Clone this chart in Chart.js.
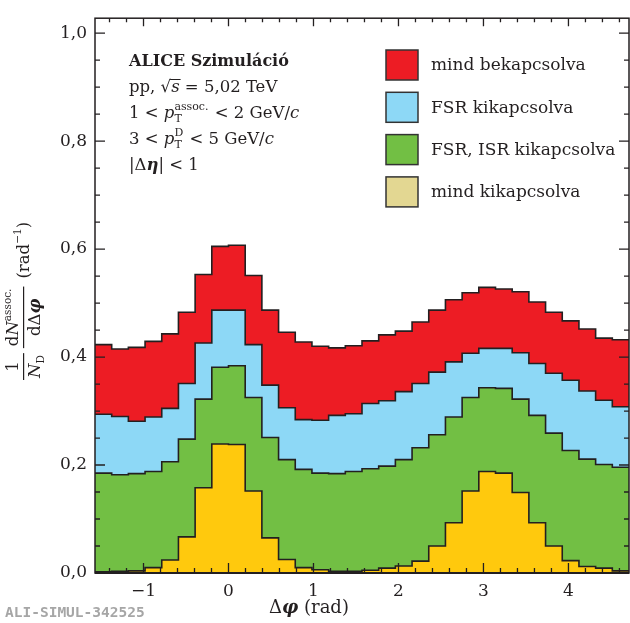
<!DOCTYPE html>
<html>
<head>
<meta charset="utf-8">
<script src="https://cdn.jsdelivr.net/npm/chart.js@4.4.1/dist/chart.umd.min.js"></script>
<style>
  html, body { margin: 0; padding: 0; background: #fff; }
  #wrap { width: 630px; height: 623px; }
</style>
</head>
<body>
<div id="wrap"><canvas id="chart" width="630" height="623"></canvas></div>
<script>
// 32 bins over -pi/2 .. 3pi/2
const nBins = 32;
const xMin = -Math.PI / 2;
const xMax = 3 * Math.PI / 2;

const seriesNames = ["mind bekapcsolva", "FSR kikapcsolva", "FSR, ISR kikapcsolva", "mind kikapcsolva"];

const allOn = [0.423, 0.415, 0.418, 0.429, 0.443, 0.483, 0.553, 0.605, 0.607, 0.551, 0.487, 0.446, 0.428, 0.420, 0.417, 0.421,
               0.430, 0.441, 0.448, 0.465, 0.487, 0.506, 0.519, 0.529, 0.526, 0.521, 0.502, 0.483, 0.467, 0.452, 0.435, 0.432];
const fsrOff = [0.294, 0.290, 0.281, 0.289, 0.305, 0.351, 0.426, 0.487, 0.487, 0.423, 0.348, 0.306, 0.284, 0.283, 0.292, 0.295,
                0.314, 0.319, 0.336, 0.351, 0.372, 0.391, 0.407, 0.416, 0.416, 0.408, 0.388, 0.370, 0.357, 0.337, 0.320, 0.308];
const fsrIsrOff = [0.185, 0.182, 0.184, 0.188, 0.206, 0.248, 0.322, 0.381, 0.384, 0.325, 0.251, 0.210, 0.192, 0.185, 0.184, 0.188,
                   0.193, 0.198, 0.210, 0.232, 0.256, 0.289, 0.325, 0.343, 0.342, 0.322, 0.292, 0.259, 0.227, 0.211, 0.201, 0.196];
const allOff = [0.002, 0.003, 0.004, 0.010, 0.024, 0.067, 0.158, 0.239, 0.238, 0.152, 0.065, 0.025, 0.010, 0.006, 0.003, 0.003,
                0.005, 0.009, 0.013, 0.022, 0.050, 0.093, 0.152, 0.188, 0.185, 0.149, 0.093, 0.050, 0.023, 0.012, 0.009, 0.004];

const xTickValues = [-1, 0, 1, 2, 3, 4];
const yTickValues = [0, 0.2, 0.4, 0.6, 0.8, 1.0];

const fillColors = ["#ed1c24", "#8dd8f6", "#72bf44", "#ffc90d"];
const legendColors = ["#ed1c24", "#8dd8f6", "#72bf44", "#e3d792"];
const ink = "#231f20";
const SERIF = '"DejaVu Serif", serif';

const binWidth = (xMax - xMin) / nBins;
const edges = [];
for (let i = 0; i <= nBins; i++) edges.push(xMin + i * binWidth);

function histPoints(vals) {
  return edges.map((x, i) => ({ x: x, y: vals[Math.min(i, vals.length - 1)] }));
}

function makeSet(label, vals, color) {
  return {
    label: label,
    data: histPoints(vals),
    stepped: true,
    fill: "origin",
    backgroundColor: color,
    borderColor: ink,
    borderWidth: 1.6,
    pointRadius: 0,
    tension: 0
  };
}

// index 0 is drawn on top, so yellow goes first
const datasets = [
  makeSet(seriesNames[3], allOff, fillColors[3]),
  makeSet(seriesNames[2], fsrIsrOff, fillColors[2]),
  makeSet(seriesNames[1], fsrOff, fillColors[1]),
  makeSet(seriesNames[0], allOn, fillColors[0])
];

// draw a line of text made of runs; {t, font, dy} or {sub, sup, font}
function drawRuns(ctx, x, y, runs) {
  runs.forEach(r => {
    ctx.font = r.font;
    if (r.sub !== undefined || r.sup !== undefined) {
      let w = 0;
      if (r.sup) { ctx.fillText(r.sup, x, y - 8); w = Math.max(w, ctx.measureText(r.sup).width); }
      if (r.sub) { ctx.fillText(r.sub, x, y + 4); w = Math.max(w, ctx.measureText(r.sub).width); }
      x += w + 1;
    } else {
      ctx.fillText(r.t, x, y + (r.dy || 0));
      const w = ctx.measureText(r.t).width;
      if (r.over) {
        ctx.fillRect(x - 1, y + r.over, w + 2, 1);
      }
      x += w;
    }
  });
  return x;
}

function runsWidth(ctx, runs) {
  let w = 0;
  runs.forEach(r => {
    ctx.font = r.font;
    if (r.sub !== undefined || r.sup !== undefined) {
      w += Math.max(r.sup ? ctx.measureText(r.sup).width : 0, r.sub ? ctx.measureText(r.sub).width : 0) + 1;
    } else {
      w += ctx.measureText(r.t).width;
    }
  });
  return w;
}

const decorations = {
  id: "decorations",
  afterDraw(chart) {
    const ctx = chart.ctx;
    const a = chart.chartArea;
    const xs = chart.scales.x;
    const ys = chart.scales.y;
    ctx.save();
    ctx.strokeStyle = ink;
    ctx.fillStyle = ink;

    // frame
    ctx.lineWidth = 1.5;
    ctx.strokeRect(a.left, a.top, a.right - a.left, a.bottom - a.top);
    ctx.lineWidth = 2.2;
    ctx.beginPath(); ctx.moveTo(a.left, a.bottom); ctx.lineTo(a.right, a.bottom); ctx.stroke();

    // x ticks, inward, bottom and top
    ctx.lineWidth = 1.3;
    for (let k = -8; k <= 24; k++) {
      const v = k * 0.2;
      if (v < xMin || v > xMax) continue;
      const px = xs.getPixelForValue(v);
      const major = Math.abs(v - Math.round(v)) < 1e-6;
      const len = major ? 10 : 5;
      ctx.beginPath();
      ctx.moveTo(px, a.bottom); ctx.lineTo(px, a.bottom - len);
      ctx.moveTo(px, a.top); ctx.lineTo(px, a.top + (major ? 8 : 4));
      ctx.stroke();
    }
    // y ticks, left and right
    for (let k = 0; k <= 20; k++) {
      const v = k * 0.05;
      const py = ys.getPixelForValue(v);
      const major = k % 4 === 0;
      const len = major ? 10 : 5;
      ctx.beginPath();
      ctx.moveTo(a.left, py); ctx.lineTo(a.left + len, py);
      ctx.moveTo(a.right, py); ctx.lineTo(a.right - len, py);
      ctx.stroke();
    }

    // legend
    ctx.textBaseline = "middle";
    ctx.font = "17px " + SERIF;
    seriesNames.forEach((name, i) => {
      const by = 50 + i * 42.3;
      ctx.fillStyle = legendColors[i];
      ctx.fillRect(386, by, 32, 30);
      ctx.lineWidth = 1.5;
      ctx.strokeStyle = "#333";
      ctx.strokeRect(386, by, 32, 30);
      ctx.fillStyle = ink;
      ctx.fillText(name, 431, by + 16);
    });

    // info text
    ctx.textBaseline = "alphabetic";
    const reg = "16.5px " + SERIF;
    const it = "italic 16.5px " + SERIF;
    const small = "11px " + SERIF;
    ctx.font = "bold 16px " + SERIF;
    ctx.fillText("ALICE Szimuláció", 129, 66);
    drawRuns(ctx, 129, 92, [
      { t: "pp, ", font: reg }, { t: "√", font: reg }, { t: "s", font: it, over: -13 }, { t: " = 5,02 TeV", font: reg }
    ]);
    drawRuns(ctx, 129, 118, [
      { t: "1 < ", font: reg }, { t: "p", font: it }, { sub: "T", sup: "assoc.", font: small }, { t: " < 2 GeV/", font: reg }, { t: "c", font: it }
    ]);
    drawRuns(ctx, 129, 144, [
      { t: "3 < ", font: reg }, { t: "p", font: it }, { sub: "T", sup: "D", font: small }, { t: " < 5 GeV/", font: reg }, { t: "c", font: it }
    ]);
    drawRuns(ctx, 129, 170, [
      { t: "|Δ", font: reg }, { t: "η", font: "bold italic 16.5px " + SERIF }, { t: "| < 1", font: reg }
    ]);

    // x title
    const xt = [{ t: "Δ", font: "18px " + SERIF }, { t: "φ", font: "bold italic 18px " + SERIF }, { t: " (rad)", font: "18px " + SERIF }];
    drawRuns(ctx, 269, 613, xt);

    // y title, rotated
    ctx.save();
    ctx.rotate(-Math.PI / 2);
    const f = "16.5px " + SERIF;
    const fi = "italic 16.5px " + SERIF;
    const fs = "10.5px " + SERIF;
    // 1 / N_D
    let u0 = -380;
    ctx.font = f;
    const w1 = ctx.measureText("1").width;
    const nd = [{ t: "N", font: fi }, { t: "D", font: fs, dy: 4 }];
    const wnd = runsWidth(ctx, nd);
    const wf1 = Math.max(w1, wnd) + 4;
    ctx.font = f;
    ctx.fillText("1", u0 + (wf1 - w1) / 2, 18);
    ctx.fillRect(u0, 23, wf1, 1.2);
    drawRuns(ctx, u0 + (wf1 - wnd) / 2, 40, nd);
    // dN^assoc / dΔφ
    u0 += wf1 + 5;
    const num = [{ t: "d", font: f }, { t: "N", font: fi }, { t: "assoc.", font: fs, dy: -7 }];
    const den = [{ t: "dΔ", font: f }, { t: "φ", font: "bold italic 16.5px " + SERIF }];
    const wn = runsWidth(ctx, num);
    const wd = runsWidth(ctx, den);
    const wf2 = Math.max(wn, wd) + 4;
    drawRuns(ctx, u0 + (wf2 - wn) / 2, 18, num);
    ctx.fillRect(u0, 23, wf2, 1.2);
    drawRuns(ctx, u0 + (wf2 - wd) / 2, 40, den);
    u0 += wf2 + 8;
    drawRuns(ctx, u0, 29, [{ t: "(rad", font: f }, { t: "−1", font: fs, dy: -8 }, { t: ")", font: f }]);
    ctx.restore();

    // watermark
    ctx.font = "bold 14.5px \"DejaVu Sans Mono\", monospace";
    ctx.fillStyle = "#a6a6a6";
    ctx.fillText("ALI-SIMUL-342525", 5, 617);

    ctx.restore();
  }
};

new Chart(document.getElementById("chart"), {
  type: "line",
  data: { datasets: datasets },
  options: {
    responsive: false,
    animation: false,
    events: [],
    layout: { padding: { left: 0, right: 1, top: 15, bottom: 0 } },
    plugins: { legend: { display: false }, tooltip: { enabled: false } },
    scales: {
      x: {
        type: "linear",
        min: xMin,
        max: xMax,
        afterFit: s => { s.height = 50; },
        afterBuildTicks: s => { s.ticks = xTickValues.map(v => ({ value: v })); },
        grid: { display: false, drawTicks: false },
        border: { display: false },
        ticks: {
          padding: 8,
          color: ink,
          font: { family: SERIF, size: 17 },
          callback: v => (v < 0 ? "−" + Math.abs(v) : String(v))
        }
      },
      y: {
        type: "linear",
        min: 0,
        max: 558 / 543,
        afterFit: s => { s.width = 95; },
        afterBuildTicks: s => { s.ticks = yTickValues.map(v => ({ value: v })); },
        grid: { display: false, drawTicks: false },
        border: { display: false },
        ticks: {
          padding: 8,
          color: ink,
          font: { family: SERIF, size: 17 },
          callback: v => v.toFixed(1).replace(".", ",")
        }
      }
    }
  },
  plugins: [decorations]
});
</script>
</body>
</html>
